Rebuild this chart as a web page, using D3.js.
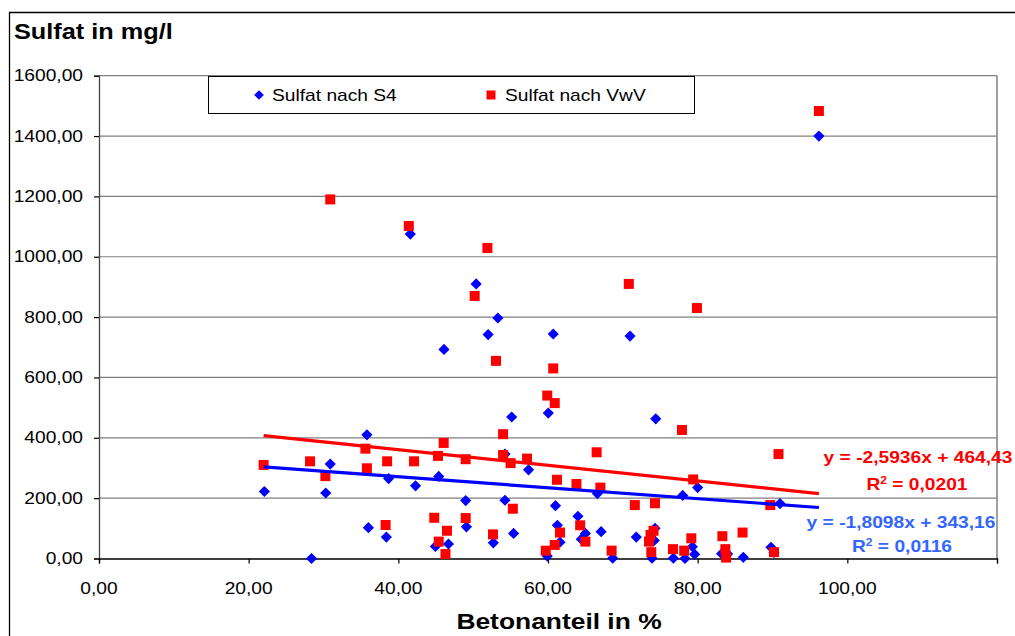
<!DOCTYPE html>
<html>
<head>
<meta charset="utf-8">
<script src="https://cdn.jsdelivr.net/npm/d3@7"></script>
<style>
  body { margin: 0; background: #fff; }
  svg { display: block; font-family: "Liberation Sans", Arial, sans-serif; }
</style>
</head>
<body>
<div id="chart"></div>
<script>
// Betonanteil in % / Sulfat in mg/l
const s4Points = [
    [22.1, 222], [28.4, 0], [30.3, 217], [30.9, 313], [35.8, 410], [36.0, 102], [38.4, 71],
    [38.7, 265], [41.6, 1075], [42.3, 241], [44.95, 40], [45.4, 272], [46.1, 693], [46.7, 48],
    [49.0, 192], [49.1, 105], [50.4, 910], [52.0, 742], [52.7, 52], [53.3, 797], [54.25, 346],
    [54.25, 193], [55.15, 469], [55.4, 83], [57.4, 294], [59.9, 8], [60.04, 482], [60.7, 744],
    [61.0, 175], [61.25, 110], [61.6, 54], [64.0, 140], [64.45, 64], [65.0, 83], [66.6, 215],
    [67.1, 89], [68.65, 1], [70.96, 737], [71.8, 71], [73.9, 1], [74.2, 60], [74.3, 100],
    [74.4, 463], [76.75, 1], [78.0, 209], [78.3, 0], [79.3, 39], [79.6, 14], [80.0, 235],
    [83.2, 16], [84.0, 15], [86.1, 4], [89.8, 37], [90.2, 20], [91.0, 182], [96.2, 1400]
];
const vwvPoints = [
    [22.0, 310], [28.2, 322], [30.25, 273], [30.9, 1190], [35.6, 364], [35.8, 299], [38.3, 111],
    [38.5, 322], [41.4, 1102], [42.1, 322], [44.8, 135], [45.3, 340], [45.4, 56], [46.06, 383],
    [46.3, 15], [46.5, 92], [49.0, 329], [49.0, 134], [50.2, 870], [51.9, 1029], [52.65, 80],
    [53.05, 655], [54.0, 412], [54.0, 343], [55.0, 316], [55.3, 165], [57.2, 331], [59.7, 26],
    [59.9, 540], [60.7, 630], [60.9, 515], [60.9, 45], [61.2, 261], [61.6, 86], [63.8, 247],
    [64.3, 110], [65.0, 56], [66.5, 352], [67.0, 235], [68.5, 26], [70.8, 910], [71.6, 177],
    [73.5, 56], [73.7, 78], [73.8, 21], [74.1, 92], [74.3, 183], [76.7, 31], [77.9, 426],
    [78.2, 26], [79.15, 67], [79.4, 262], [79.9, 830], [83.3, 74], [83.7, 31], [83.8, 3],
    [86.0, 86], [89.7, 177], [90.2, 21], [90.8, 346], [96.2, 1483]
];

// linear trend lines as printed on the chart
const trendS4 = { slope: -1.8098, intercept: 343.16, r2: 0.0116 };
const trendVwV = { slope: -2.5936, intercept: 464.43, r2: 0.0201 };

const xTicks = [0, 20, 40, 60, 80, 100, 120];
const xLabels = [0, 20, 40, 60, 80, 100];
const yTicks = [0, 200, 400, 600, 800, 1000, 1200, 1400, 1600];

const W = 1015, H = 636;
const plot = { left: 99, right: 997, top: 75.7, bottom: 558.5 };
const stretch = 1.2; // the picture's text is a bit wide

const de = d3.formatLocale({ decimal: ',', thousands: '', grouping: [3], currency: ['', ''], minus: '-' });
const fmt = de.format('.2f');
const fmt4 = de.format('.4f');

const svg = d3.select('#chart').append('svg')
    .attr('width', W)
    .attr('height', H);

svg.append('rect').attr('width', W).attr('height', H).attr('fill', '#fff');

// outer chart border (right and bottom are outside the picture)
svg.append('path')
    .attr('d', `M9.5,${H + 5}V12.5H${W + 5}`)
    .attr('fill', 'none')
    .attr('stroke', '#000')
    .attr('stroke-width', 1.3);

const x = d3.scaleLinear().domain([0, 120]).range([plot.left, plot.right]);
const y = d3.scaleLinear().domain([0, 1600]).range([plot.bottom, plot.top]);

function label(g, px, py, txt, opts = {}) {
    return g.append('text')
        .attr('transform', `translate(${px},${py}) scale(${opts.sx || stretch},1)`)
        .attr('text-anchor', opts.anchor || 'start')
        .attr('font-size', opts.size || 16)
        .attr('font-weight', opts.bold ? 'bold' : 'normal')
        .attr('fill', opts.color || '#000')
        .text(txt);
}

// grid
svg.append('g')
    .selectAll('line')
    .data(yTicks.filter(d => d > 0))
    .join('line')
    .attr('x1', plot.left).attr('x2', plot.right)
    .attr('y1', d => y(d)).attr('y2', d => y(d))
    .attr('stroke', '#808080')
    .attr('stroke-width', 1.2);

svg.append('line')
    .attr('x1', plot.right).attr('x2', plot.right)
    .attr('y1', plot.top).attr('y2', plot.bottom)
    .attr('stroke', '#808080')
    .attr('stroke-width', 1.5);

// axes
const yAxis = svg.append('g')
    .attr('transform', `translate(${plot.left},0)`)
    .call(d3.axisLeft(y).tickValues(yTicks).tickSize(5).tickFormat(''));
const xAxis = svg.append('g')
    .attr('transform', `translate(0,${plot.bottom})`)
    .call(d3.axisBottom(x).tickValues(xTicks).tickSize(5).tickFormat(''));
[xAxis, yAxis].forEach(a => {
    a.select('.domain').attr('stroke', '#000').attr('stroke-width', 1.3);
    a.selectAll('.tick line').attr('stroke', '#000').attr('stroke-width', 1.2);
});
yAxis.select('.domain').attr('stroke', '#444');

const tickLabels = svg.append('g');
yTicks.forEach(v => label(tickLabels, 83, y(v) + 5.5, fmt(v), { anchor: 'end' }));
xLabels.forEach(v => label(tickLabels, x(v), 594, fmt(v), { anchor: 'middle' }));

// titles
label(svg, 14, 39, 'Sulfat in mg/l', { size: 22, bold: true, sx: 1.15 });
label(svg, 559, 629, 'Betonanteil in %', { size: 22, bold: true, anchor: 'middle' });

// markers
const diamond = d3.symbol().type(d3.symbolDiamond2).size(80);
svg.append('g')
    .selectAll('path')
    .data(s4Points)
    .join('path')
    .attr('transform', d => `translate(${x(d[0])},${y(d[1])})`)
    .attr('d', diamond)
    .attr('fill', '#0000ff');

svg.append('g')
    .selectAll('rect')
    .data(vwvPoints)
    .join('rect')
    .attr('x', d => x(d[0]) - 5)
    .attr('y', d => y(d[1]) - 5)
    .attr('width', 10)
    .attr('height', 10)
    .attr('fill', '#ff0000');

// trend lines over the data range
const xMin = d3.min(s4Points.concat(vwvPoints), d => d[0]);
const xMax = d3.max(s4Points.concat(vwvPoints), d => d[0]);
[[trendVwV, '#ff0000'], [trendS4, '#0000ff']].forEach(([t, c]) => {
    const pts = [xMin, xMax].map(v => [x(v), y(t.slope * v + t.intercept)]);
    svg.append('path')
        .attr('d', d3.line()(pts))
        .attr('stroke', c)
        .attr('stroke-width', 3.2)
        .attr('fill', 'none');
});

// trend labels
function eqText(t) {
    const sign = t.intercept >= 0 ? '+' : '-';
    return `y = ${fmt4(t.slope)}x ${sign} ${fmt(Math.abs(t.intercept))}`;
}
function r2Label(px, py, t, color) {
    const el = label(svg, px, py, '', { anchor: 'middle', bold: true, color });
    el.append('tspan').text('R');
    el.append('tspan').attr('font-size', 10).attr('dy', -6).text('2');
    el.append('tspan').attr('dy', 6).text(' = ' + fmt4(t.r2));
}
label(svg, 918, 463, eqText(trendVwV), { anchor: 'middle', bold: true, color: '#ff0000' });
r2Label(917, 490, trendVwV, '#ff0000');
label(svg, 901, 528, eqText(trendS4), { anchor: 'middle', bold: true, color: '#3366ff' });
r2Label(902, 552, trendS4, '#3366ff');

// legend
const legend = svg.append('g');
legend.append('rect')
    .attr('x', 208.5).attr('y', 76.5)
    .attr('width', 486).attr('height', 37)
    .attr('fill', '#fff')
    .attr('stroke', '#000')
    .attr('stroke-width', 1);
legend.append('path')
    .attr('transform', 'translate(259,95)')
    .attr('d', d3.symbol().type(d3.symbolDiamond2).size(60))
    .attr('fill', '#0000ff');
legend.append('rect')
    .attr('x', 486.5).attr('y', 90.5).attr('width', 9).attr('height', 9)
    .attr('fill', '#ff0000');
label(legend, 272, 101, 'Sulfat nach S4');
label(legend, 505, 101, 'Sulfat nach VwV');
</script>
</body>
</html>
